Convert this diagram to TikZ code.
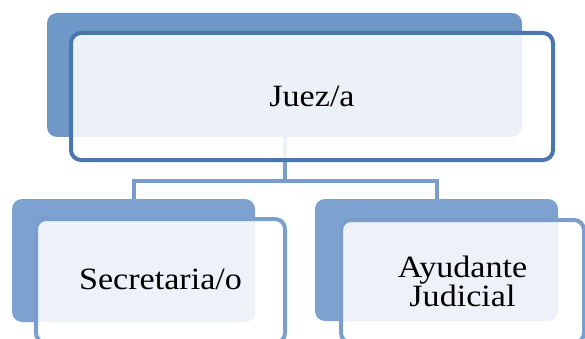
\documentclass[tikz,border=0pt]{standalone}
\usepackage{fontspec}
\setmainfont{Liberation Serif}[FakeStretch=1.1]
\usepackage{tikz}
\definecolor{backtop}{HTML}{6F97C8}
\definecolor{backlow}{HTML}{7EA2CF}
\definecolor{edgetop}{HTML}{4A76AE}
\definecolor{edgelow}{HTML}{7B9FCC}
\definecolor{linkcol}{HTML}{7A9CCB}
\tikzset{
  backbox/.style={rounded corners=10pt, inner sep=0pt},
  frontbox/.style={draw, line width=4pt, rounded corners=10pt, fill=white,
    fill opacity=0.87, text opacity=1, inner sep=0pt, align=center,
    font=\fontsize{31}{29}\selectfont},
  link/.style={draw=linkcol, line width=4pt}
}

\begin{document}
\begin{tikzpicture}[x=1pt,y=-1pt]

  \useasboundingbox (0,0) rectangle (585,339);

  % connectors first, so the boxes lie on top
  \coordinate (fork) at (284.5,181);
  \coordinate (topfoot) at (284.5,137);
  \coordinate (leftfoot) at (133.5,199);
  \coordinate (rightfoot) at (436.5,199);
  \draw[link] (topfoot) -- (fork) -| (leftfoot);
  \draw[link] (fork) -| (rightfoot);

  % back boxes
  \node[backbox, fill=backtop, minimum width=475pt, minimum height=124pt] (topback) at (284.5,75) {};
  \node[backbox, fill=backlow, minimum width=243pt, minimum height=123pt] (leftback) at (133.5,260.5) {};
  \node[backbox, fill=backlow, minimum width=243pt, minimum height=122pt] (rightback) at (436.5,260) {};

  % front boxes with the names (the lower ones run past the bottom edge)
  \node[frontbox, draw=edgetop, minimum width=482pt, minimum height=127pt] (juez) at (312,96.5) {Juez/a};
  \node[frontbox, draw=edgelow, minimum width=249pt, minimum height=124pt, text depth=4pt] (secre) at (160.5,281) {Secretaria/o};
  \node[frontbox, draw=edgelow, minimum width=243pt, minimum height=123pt] (ayud) at (462.5,281.5) {Ayudante\\Judicial};

\end{tikzpicture}
\end{document}
